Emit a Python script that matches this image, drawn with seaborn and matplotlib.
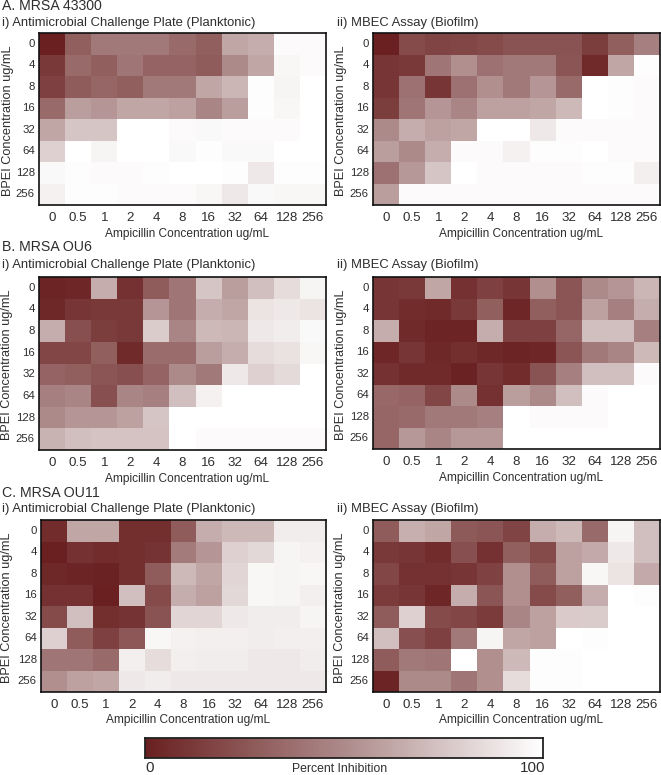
import numpy as np
import pandas as pd
import matplotlib
matplotlib.use("Agg")
import matplotlib.pyplot as plt
from matplotlib.colors import LinearSegmentedColormap
import seaborn as sns

ampicillin = ["0", "0.5", "1", "2", "4", "8", "16", "32", "64", "128", "256"]
bpei = ["0", "4", "8", "16", "32", "64", "128", "256"]

a_plank = [
    [0, 30, 42, 42, 42, 35, 30, 62, 65, 98, 98],
    [12, 35, 30, 40, 32, 32, 28, 50, 62, 96, 98],
    [15, 28, 33, 30, 42, 42, 62, 68, 99, 95, 100],
    [35, 58, 55, 62, 62, 60, 48, 58, 99, 96, 100],
    [62, 75, 75, 100, 100, 98, 97, 98, 98, 98, 100],
    [80, 100, 95, 100, 100, 97, 99, 97, 97, 100, 100],
    [97, 99, 98, 98, 99, 100, 100, 99, 90, 99, 99],
    [94, 99, 99, 98, 98, 98, 96, 90, 97, 96, 96],
]
a_bio = [
    [0, 20, 17, 18, 20, 24, 24, 24, 14, 30, 45],
    [10, 12, 40, 52, 38, 42, 42, 25, 5, 62, 99],
    [10, 38, 10, 38, 52, 42, 55, 35, 100, 99, 98],
    [14, 40, 55, 48, 60, 60, 62, 70, 100, 99, 98],
    [50, 65, 60, 62, 100, 100, 90, 98, 98, 98, 98],
    [58, 50, 65, 98, 98, 94, 99, 99, 100, 98, 98],
    [38, 56, 75, 100, 98, 98, 98, 98, 99, 99, 93],
    [58, 98, 98, 98, 98, 98, 98, 98, 98, 98, 98],
]
b_plank = [
    [2, 3, 65, 8, 28, 40, 75, 58, 72, 85, 95],
    [4, 10, 12, 12, 55, 40, 65, 62, 88, 90, 88],
    [65, 22, 14, 12, 78, 48, 70, 68, 90, 92, 97],
    [18, 18, 30, 5, 36, 36, 58, 65, 85, 87, 96],
    [32, 30, 25, 22, 32, 50, 42, 90, 80, 84, 100],
    [45, 48, 22, 48, 45, 72, 94, 100, 100, 100, 100],
    [50, 55, 55, 60, 75, 100, 100, 100, 100, 100, 100],
    [67, 72, 74, 74, 74, 100, 98, 98, 98, 98, 98],
]
b_bio = [
    [10, 12, 62, 8, 15, 10, 52, 25, 50, 55, 68],
    [10, 6, 5, 12, 30, 3, 30, 25, 60, 45, 65],
    [65, 5, 2, 2, 65, 15, 15, 33, 72, 72, 45],
    [3, 10, 4, 7, 4, 2, 3, 25, 42, 48, 70],
    [8, 5, 5, 1, 10, 6, 24, 45, 72, 72, 98],
    [34, 32, 18, 50, 8, 58, 50, 72, 98, 100, 100],
    [33, 35, 42, 42, 45, 100, 98, 98, 98, 100, 100],
    [33, 56, 48, 56, 56, 100, 100, 100, 100, 100, 100],
]
c_plank = [
    [6, 62, 62, 7, 7, 28, 65, 70, 70, 92, 92],
    [0, 8, 6, 7, 9, 43, 55, 80, 83, 95, 94],
    [4, 2, 1, 7, 28, 70, 62, 82, 96, 95, 96],
    [8, 8, 0, 72, 20, 65, 60, 83, 96, 95, 93],
    [20, 72, 7, 9, 24, 82, 82, 90, 92, 92, 95],
    [80, 28, 15, 26, 96, 94, 93, 93, 92, 93, 93],
    [40, 40, 35, 93, 85, 93, 92, 92, 90, 90, 92],
    [52, 60, 62, 90, 92, 90, 90, 90, 90, 90, 90],
]
c_bio = [
    [28, 66, 62, 27, 25, 17, 65, 70, 35, 95, 72],
    [12, 10, 6, 22, 8, 30, 20, 60, 63, 90, 72],
    [18, 8, 8, 10, 16, 52, 28, 60, 96, 88, 63],
    [13, 10, 3, 65, 25, 52, 20, 30, 65, 100, 99],
    [28, 80, 20, 18, 13, 48, 60, 77, 78, 100, 100],
    [72, 22, 15, 42, 95, 62, 60, 100, 99, 100, 100],
    [28, 42, 40, 100, 52, 70, 99, 99, 100, 100, 100],
    [2, 50, 50, 40, 52, 85, 99, 99, 100, 100, 100],
]

W, H = 661, 775
TXT = "#2e2e2e"
FONT = "Liberation Sans"
cmap = LinearSegmentedColormap.from_list("inhib", ["#6a2020", "#ad8a8a", "#ffffff"])

sns.set_theme(style="white")
plt.rcParams["font.family"] = [FONT, "DejaVu Sans"]
fig = plt.figure(figsize=(W / 100, H / 100), dpi=100, facecolor="white")


def axes_px(x0, y0, x1, y1):
    return fig.add_axes([x0 / W, 1 - y1 / H, (x1 - x0) / W, (y1 - y0) / H])


def panel(data, box, ylabel_x):
    ax = axes_px(*box)
    df = pd.DataFrame(data, index=bpei, columns=ampicillin)
    sns.heatmap(df, ax=ax, cmap=cmap, vmin=0, vmax=100, cbar=False, linewidths=0)
    ax.tick_params(axis="x", length=0, pad=5)
    ax.tick_params(axis="y", length=0, pad=3)
    ax.set_xticklabels(ampicillin, rotation=0, fontsize=9.6, color=TXT)
    ax.set_yticklabels(bpei, rotation=0, fontsize=8.2, color=TXT)
    ax.set_xlabel("Ampicillin Concentration ug/mL", fontsize=8.6, color=TXT)
    ax.xaxis.set_label_coords(0.515, -22.5 / (box[3] - box[1]))
    ax.set_ylabel("BPEI Concentration ug/mL", fontsize=9.2, color=TXT, va="center")
    ax.yaxis.set_label_coords(ylabel_x / W, 1 - (box[1] + 88) / H, transform=fig.transFigure)
    for s in ax.spines.values():
        s.set_visible(True)
        s.set_color("#111111")
        s.set_linewidth(1.2)
    return ax


panel(a_plank, (39, 33, 326, 205), 8)
panel(a_bio, (373, 33, 660, 205), 341)
panel(b_plank, (39, 277, 326, 450), 7)
panel(b_bio, (373, 277, 660, 449), 341)
panel(c_plank, (41, 520, 326, 692), 7)
panel(c_bio, (373, 520, 660, 692), 340)

for s, x, y, fs in [("A. MRSA 43300", 2, 6.5, 10.2), ("i) Antimicrobial Challenge Plate (Planktonic)", 2, 23, 9.4),
                    ("ii) MBEC Assay (Biofilm)", 337, 23, 9.4),
                    ("B. MRSA OU6", 2, 247, 10.2), ("i) Antimicrobial Challenge Plate (Planktonic)", 2, 265, 9.4),
                    ("ii) MBEC Assay (Biofilm)", 337, 265, 9.4),
                    ("C. MRSA OU11", 2, 493, 10.2), ("i) Antimicrobial Challenge Plate (Planktonic)", 2, 509, 9.4),
                    ("ii) MBEC Assay (Biofilm)", 337, 509, 9.4)]:
    fig.text(x / W, 1 - y / H, s, fontsize=fs, color=TXT, ha="left", va="center")

cax = axes_px(145, 738, 543, 758)
gradient = pd.DataFrame([np.linspace(0, 100, 256)])
sns.heatmap(gradient, ax=cax, cmap=cmap, vmin=0, vmax=100, cbar=False,
            xticklabels=False, yticklabels=False)
for s in cax.spines.values():
    s.set_visible(True)
    s.set_color("#222222")
    s.set_linewidth(1.3)
fig.text(150 / W, 1 - 768 / H, "0", fontsize=11, color=TXT, ha="center", va="center")
fig.text(340 / W, 1 - 769 / H, "Percent Inhibition", fontsize=8.8, color=TXT, ha="center", va="center")
fig.text(533 / W, 1 - 768 / H, "100", fontsize=11, color=TXT, ha="center", va="center")

fig.savefig("out.png", dpi=100, facecolor="white")
